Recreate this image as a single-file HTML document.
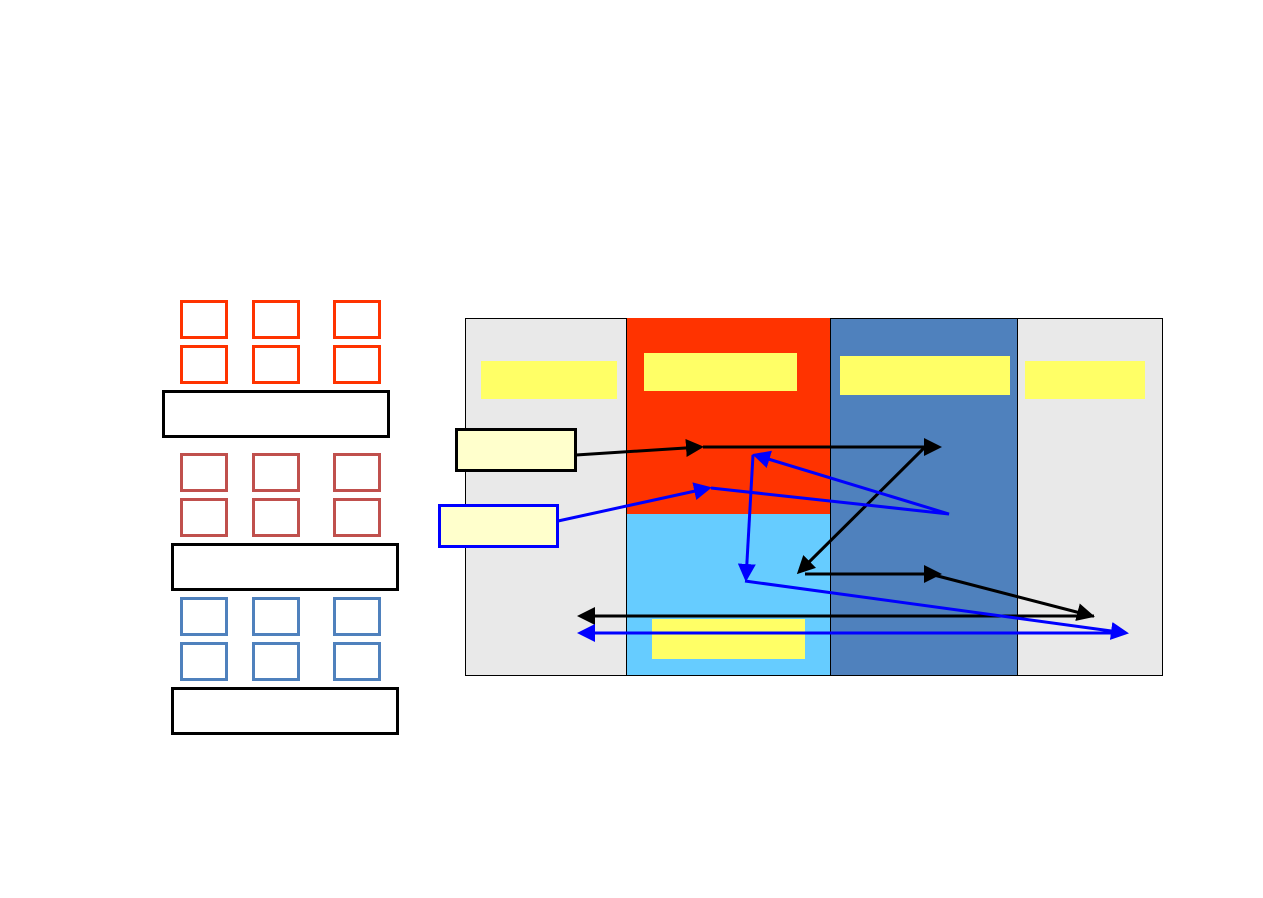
<!DOCTYPE html>
<html><head><meta charset="utf-8"><style>html,body{margin:0;padding:0;background:#fff}</style></head>
<body>
<svg width="1263" height="893" xmlns="http://www.w3.org/2000/svg">
<defs>
<marker id="ab" markerWidth="6" markerHeight="6" refX="5" refY="3" orient="auto" markerUnits="strokeWidth"><path d="M0,0 L6,3 L0,6 z" fill="#000"/></marker>
<marker id="au" markerWidth="6" markerHeight="6" refX="5" refY="3" orient="auto" markerUnits="strokeWidth"><path d="M0,0 L6,3 L0,6 z" fill="#00f"/></marker>
</defs>
<g fill="none" stroke-width="3">
<g stroke="#FF3300">
<rect x="181.5" y="301.5" width="45" height="36"/><rect x="253.5" y="301.5" width="45" height="36"/><rect x="334.5" y="301.5" width="45" height="36"/>
<rect x="181.5" y="346.5" width="45" height="36"/><rect x="253.5" y="346.5" width="45" height="36"/><rect x="334.5" y="346.5" width="45" height="36"/>
</g>
<g stroke="#C0504D">
<rect x="181.5" y="454.5" width="45" height="36"/><rect x="253.5" y="454.5" width="45" height="36"/><rect x="334.5" y="454.5" width="45" height="36"/>
<rect x="181.5" y="499.5" width="45" height="36"/><rect x="253.5" y="499.5" width="45" height="36"/><rect x="334.5" y="499.5" width="45" height="36"/>
</g>
<g stroke="#4F81BD">
<rect x="181.5" y="598.5" width="45" height="36"/><rect x="253.5" y="598.5" width="45" height="36"/><rect x="334.5" y="598.5" width="45" height="36"/>
<rect x="181.5" y="643.5" width="45" height="36"/><rect x="253.5" y="643.5" width="45" height="36"/><rect x="334.5" y="643.5" width="45" height="36"/>
</g>
<g stroke="#000">
<rect x="163.5" y="391.5" width="225" height="45"/>
<rect x="172.5" y="544.5" width="225" height="45"/>
<rect x="172.5" y="688.5" width="225" height="45"/>
</g>
</g>
<rect x="465.5" y="318.5" width="161" height="357" fill="#E9E9E9" stroke="#000" stroke-width="1"/>
<rect x="626" y="318" width="204" height="196" fill="#FF3300"/>
<rect x="626" y="514" width="204" height="162" fill="#66CCFF"/>
<line x1="626.5" y1="318" x2="626.5" y2="676" stroke="#000" stroke-width="1"/>
<line x1="626" y1="675.5" x2="830" y2="675.5" stroke="#000" stroke-width="1"/>
<rect x="830.5" y="318.5" width="187" height="357" fill="#4F81BD" stroke="#000" stroke-width="1"/>
<rect x="1017.5" y="318.5" width="145" height="357" fill="#E9E9E9" stroke="#000" stroke-width="1"/>
<g fill="#FFFF66">
<rect x="481" y="361" width="136" height="38"/>
<rect x="644" y="353" width="153" height="38"/>
<rect x="840" y="356" width="170" height="39"/>
<rect x="1025" y="361" width="120" height="38"/>
<rect x="652" y="619" width="153" height="40"/>
</g>
<rect x="456.5" y="429.5" width="119" height="41" fill="#FFFFCC" stroke="#000" stroke-width="3"/>
<rect x="439.5" y="505.5" width="118" height="41" fill="#FFFFCC" stroke="#00f" stroke-width="3"/>
<g stroke="#000" stroke-width="3" fill="none">
<line x1="576" y1="455" x2="701" y2="447" marker-end="url(#ab)"/>
<line x1="703" y1="447" x2="939" y2="447" marker-end="url(#ab)"/>
<line x1="925" y1="447" x2="799" y2="572" marker-end="url(#ab)"/>
<line x1="805" y1="574" x2="939" y2="574" marker-end="url(#ab)"/>
<line x1="930" y1="574" x2="1092" y2="616" marker-end="url(#ab)"/>
<line x1="1094" y1="616" x2="580" y2="616" marker-end="url(#ab)"/>
</g>
<g stroke="#00f" stroke-width="3" fill="none">
<line x1="558" y1="521" x2="709" y2="488" marker-end="url(#au)"/>
<polyline points="711,488 949,514 755,455" marker-end="url(#au)"/>
<line x1="753" y1="455" x2="746" y2="579" marker-end="url(#au)"/>
<line x1="745" y1="581" x2="1126" y2="633" marker-end="url(#au)"/>
<line x1="1126" y1="633" x2="580" y2="633" marker-end="url(#au)"/>
</g>
</svg>
</body></html>
